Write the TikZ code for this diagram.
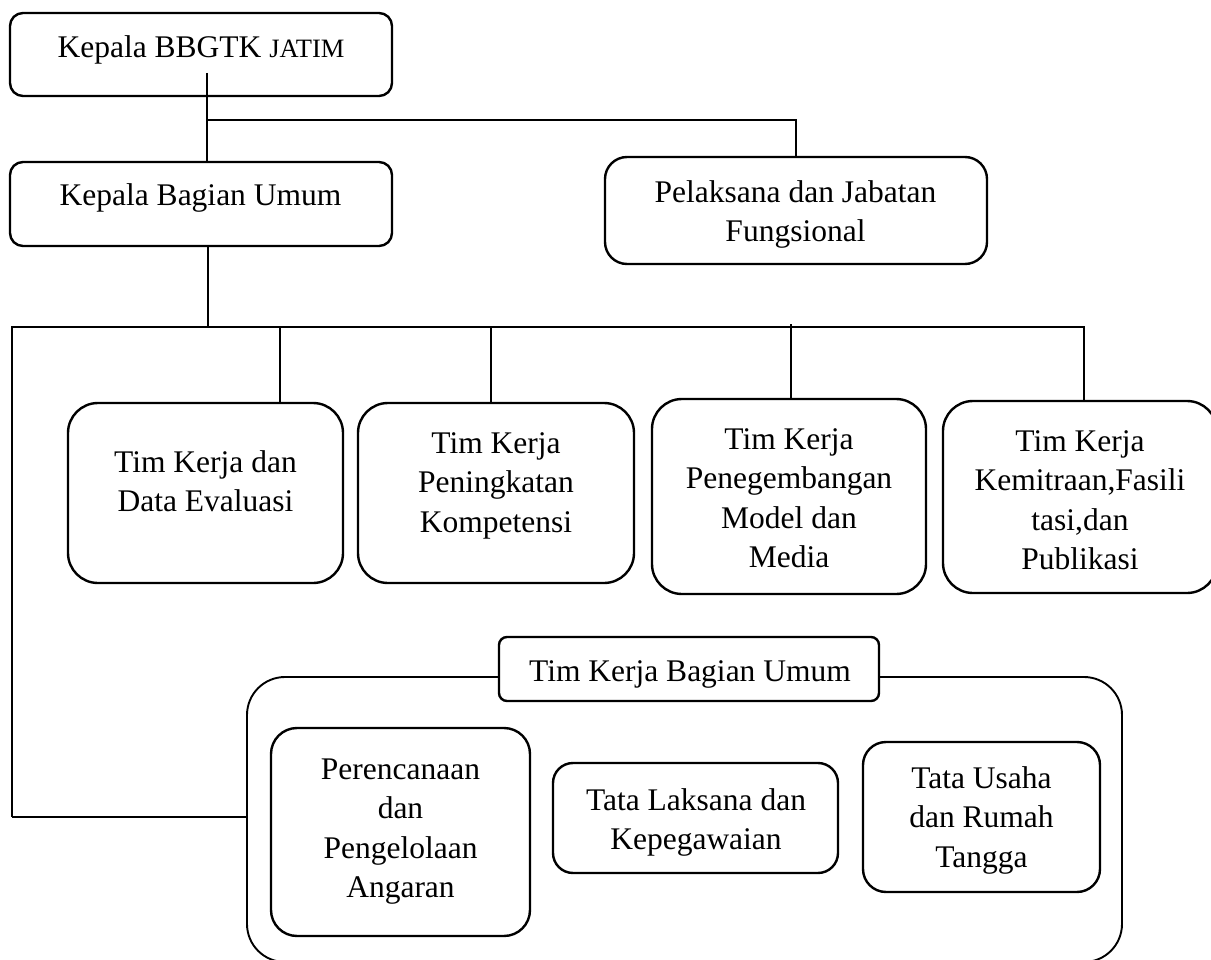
\documentclass[tikz,border=0pt]{standalone}
\usepackage{fontspec}
\setmainfont{Liberation Serif}
\begin{document}
\begin{tikzpicture}[x=1pt,y=-1pt,
  box/.style={draw, line width=2.4pt, fill=white, inner sep=0pt},
  rc/.style={rounded corners=#1},
  txt/.style={font=\fontsize{31.5}{39.5}\selectfont, align=center, inner sep=0pt, anchor=north},
  ln/.style={line width=2.4pt}]
\useasboundingbox (0,0) rectangle (1211,960);

% boxes
\node[box, rc=13pt, minimum width=382pt, minimum height=83pt] (kbb) at (201,54.5) {};
\node[box, rc=13pt, minimum width=382pt, minimum height=84pt] (kbu) at (201,204) {};
\node[box, rc=22pt, minimum width=382pt, minimum height=107pt] (pjf) at (796,210.5) {};
\node[box, rc=30pt, minimum width=275pt, minimum height=180pt] (tde) at (205.5,493) {};
\node[box, rc=30pt, minimum width=276pt, minimum height=180pt] (tpk) at (496,493) {};
\node[box, rc=30pt, minimum width=274pt, minimum height=195pt] (tpm) at (789,496.5) {};
\node[box, rc=30pt, minimum width=274pt, minimum height=192pt] (tkf) at (1080,497) {};
\node[box, line width=1.9pt, rc=38pt, minimum width=875pt, minimum height=285pt] (tbu) at (684.5,819.5) {};
\node[box, rc=8pt, minimum width=380pt, minimum height=64pt] (tbt) at (689,669) {};
\node[box, rc=26pt, minimum width=259pt, minimum height=208pt] (ppa) at (400.5,832) {};
\node[box, rc=20pt, minimum width=285pt, minimum height=110pt] (tlk) at (695.5,818) {};
\node[box, rc=23pt, minimum width=237pt, minimum height=150pt] (tur) at (981.5,817) {};

% texts
\node[txt] (kbb-t) at (201,29.35) {\strut Kepala BBGTK {\fontsize{26.5}{39.5}\selectfont JATIM}};
\node[txt] (kbu-t) at (200.5,177.35) {\strut Kepala Bagian Umum};
\node[txt] (pjf-t) at (795.5,174.35) {\strut Pelaksana dan Jabatan\\Fungsional};
\node[txt] (tde-t) at (205.5,444.35) {\strut Tim Kerja dan\\Data Evaluasi};
\node[txt] (tpk-t) at (496,425.35) {\strut Tim Kerja\\Peningkatan\\Kompetensi};
\node[txt] (tpm-t) at (789,421.35) {\strut Tim Kerja\\Penegembangan\\Model dan\\Media};
\node[txt] (tkf-t) at (1080,423.35) {\strut Tim Kerja\\Kemitraan,Fasili\\tasi,dan\\Publikasi};
\node[txt] (tbt-t) at (690,653.35) {\strut Tim Kerja Bagian Umum};
\node[txt] (ppa-t) at (400.5,751.35) {\strut Perencanaan\\dan\\Pengelolaan\\Angaran};
\node[txt] (tlk-t) at (696,782.35) {\strut Tata Laksana dan\\Kepegawaian};
\node[txt] (tur-t) at (981.5,760.35) {\strut Tata Usaha\\dan Rumah\\Tangga};

% connector points
\coordinate (k0) at (207,73);
\coordinate (j1) at (207,120);
\coordinate (bus) at (208,327);
\coordinate (bl) at (12,327);
\coordinate (br) at (1084,327);
\coordinate (d1) at (280,327);
\coordinate (d2) at (491,327);
\coordinate (d3) at (791,324);
\coordinate (ll) at (12,817);

% connectors
\draw[ln] (k0) -- (k0 |- kbu.north);
\draw[ln] (j1) -| (pjf.north);
\draw[ln] (kbu.south -| bus) -- (bus);
\draw[ln] (ll) -- (bl) -- (br) -- (br |- tkf.north);
\draw[ln] (ll) -- (ll -| tbu.west);
\draw[ln] (d1) -- (d1 |- tde.north);
\draw[ln] (d2) -- (d2 |- tpk.north);
\draw[ln] (d3) -- (d3 |- tpm.north);
\end{tikzpicture}
\end{document}
